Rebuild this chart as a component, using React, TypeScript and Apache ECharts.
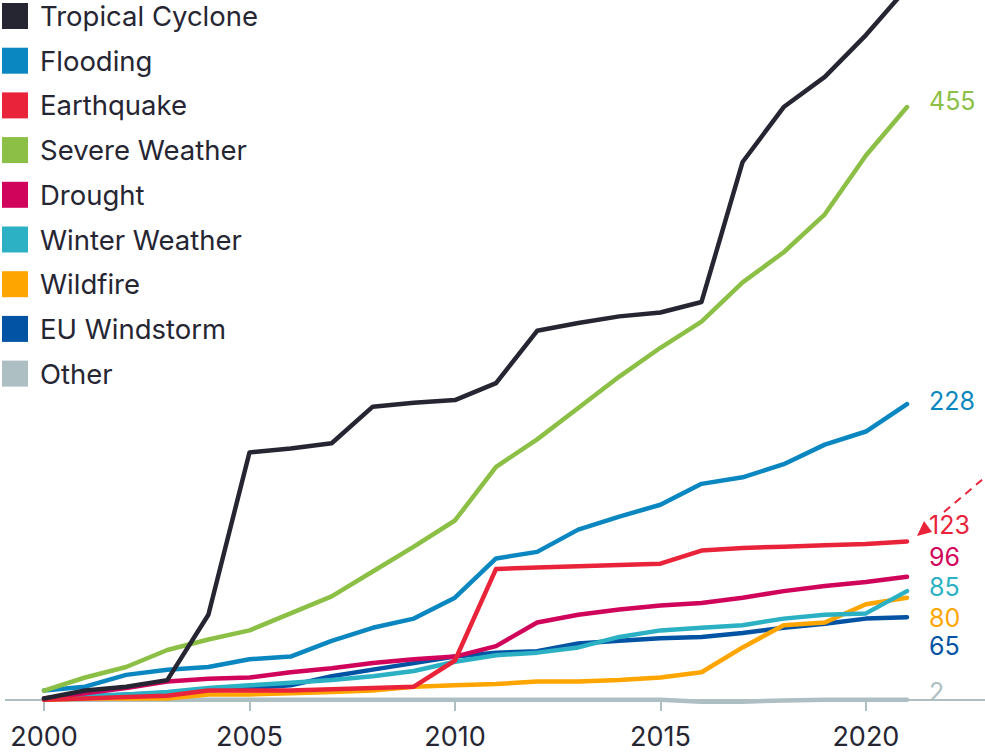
import React, { useEffect, useRef } from 'react';
import * as echarts from 'echarts';

// Cumulative counts per peril, 2000–2021
const years = [
  '2000', '2001', '2002', '2003', '2004', '2005', '2006', '2007', '2008', '2009', '2010',
  '2011', '2012', '2013', '2014', '2015', '2016', '2017', '2018', '2019', '2020', '2021',
];

const tropicalCyclone = [3, 9, 12, 17, 67, 191, 194, 198, 226, 229, 231, 244, 284, 290, 295, 298, 306, 413, 455, 478, 510, 546];
const flooding = [9, 12, 21, 25, 27, 33, 35, 47, 57, 64, 80, 110, 115, 132, 142, 151, 167, 172, 182, 197, 207, 228];
const earthquake = [2, 3, 4, 5, 9, 9, 9, 10, 11, 12, 32, 102, 103, 104, 105, 106, 116, 118, 119, 120, 121, 123];
const severeWeather = [9, 19, 27, 40, 48, 55, 68, 81, 100, 119, 139, 180, 201, 225, 249, 271, 291, 321, 344, 373, 418, 455];
const drought = [3, 7, 11, 16, 18, 19, 23, 26, 30, 33, 35, 43, 61, 67, 71, 74, 76, 80, 85, 89, 92, 96];
const winterWeather = [3, 5, 6, 8, 11, 13, 15, 17, 20, 24, 31, 36, 38, 42, 50, 55, 57, 59, 64, 67, 68, 85];
const wildfire = [2, 3, 3, 3, 6, 6, 7, 8, 9, 12, 13, 14, 16, 16, 17, 19, 23, 42, 59, 61, 75, 80];
const euWindstorm = [3, 4, 6, 7, 9, 11, 13, 20, 25, 30, 35, 38, 39, 45, 47, 49, 50, 53, 57, 60, 64, 65];
const other = [2, 2, 2, 2, 2, 2, 2, 2, 2, 2, 2, 2, 2, 2, 2, 2, 0.5, 0.5, 1.5, 2, 2, 2];

const legendOrder = [
  'Tropical Cyclone', 'Flooding', 'Earthquake', 'Severe Weather', 'Drought',
  'Winter Weather', 'Wildfire', 'EU Windstorm', 'Other',
];

const FONT = 'Inter, "Noto Sans", "Liberation Sans", sans-serif';
const TEXT = '#262633';
const AXIS = '#afbec3';

type Line = {
  name: string;
  data: number[];
  color: string;
  labelDy: number | null; // vertical nudge of the end label
  clip?: boolean;
};

// drawn bottom-up: later entries sit on top
const lines: Line[] = [
  { name: 'Other', data: other, color: '#aebfc3', labelDy: -8 },
  { name: 'EU Windstorm', data: euWindstorm, color: '#0353a4', labelDy: 29 },
  { name: 'Wildfire', data: wildfire, color: '#ffa500', labelDy: 20 },
  { name: 'Winter Weather', data: winterWeather, color: '#2bb1c3', labelDy: -4 },
  { name: 'Drought', data: drought, color: '#d1045c', labelDy: -20 },
  { name: 'Flooding', data: flooding, color: '#0a87c0', labelDy: -3 },
  { name: 'Severe Weather', data: severeWeather, color: '#8cbf45', labelDy: -6 },
  { name: 'Earthquake', data: earthquake, color: '#e9243a', labelDy: -16 },
  { name: 'Tropical Cyclone', data: tropicalCyclone, color: '#262633', labelDy: null, clip: true },
];

export default function App() {
  const ref = useRef<HTMLDivElement>(null);

  useEffect(() => {
    if (!ref.current) return;
    const chart = echarts.init(ref.current, undefined, { renderer: 'svg' });

    const series = lines.map((l) => ({
      type: 'line',
      name: l.name,
      data: l.data,
      color: l.color,
      showSymbol: false,
      clip: !!l.clip,
      lineStyle: { color: l.color, width: 4.5, cap: 'round', join: 'round' },
      itemStyle: { color: l.color },
      emphasis: { disabled: true },
      endLabel: l.labelDy === null
        ? { show: false }
        : {
            show: true,
            formatter: (p: any) => String(p.value),
            color: l.color,
            fontFamily: FONT,
            fontSize: 25,
            distance: 22,
            offset: [0, l.labelDy],
          },
    }));

    chart.setOption({
      animation: false,
      backgroundColor: '#ffffff',
      textStyle: { fontFamily: FONT },
      grid: { left: 44, right: 78, top: 0, bottom: 54, containLabel: false },
      legend: {
        data: legendOrder,
        orient: 'vertical',
        left: 2,
        top: 2,
        padding: 0,
        icon: 'rect',
        itemWidth: 26,
        itemHeight: 26,
        itemGap: 16.7,
        selectedMode: false,
        itemStyle: { borderWidth: 0 },
        textStyle: {
          color: TEXT,
          fontFamily: FONT,
          fontSize: 27.5,
          lineHeight: 26,
          padding: [0, 0, 0, 7],
        },
      },
      xAxis: {
        type: 'category',
        data: years,
        boundaryGap: false,
        axisLine: { show: false },
        axisTick: {
          show: true,
          interval: (i: number) => i % 5 === 0,
          length: 11,
          lineStyle: { color: AXIS, width: 2 },
        },
        axisLabel: {
          interval: (i: number) => i % 5 === 0,
          color: TEXT,
          fontFamily: FONT,
          fontSize: 27,
          margin: 23,
        },
        splitLine: { show: false },
      },
      yAxis: {
        type: 'value',
        min: 1.8,
        max: 536.8,
        show: false,
        splitLine: { show: false },
      },
      series,
      graphic: [
        // baseline running the full width
        {
          type: 'line',
          z: 0,
          shape: { x1: 5, y1: 700, x2: 985, y2: 700 },
          style: { stroke: AXIS, lineWidth: 2 },
        },
        // dashed pointer towards the earthquake label
        {
          type: 'line',
          z: 10,
          shape: { x1: 944, y1: 512, x2: 990, y2: 473 },
          style: { stroke: '#e9243a', lineWidth: 2, lineDash: [8, 6] },
        },
        {
          type: 'polygon',
          z: 10,
          shape: { points: [[917, 536], [924, 521], [932, 532]] },
          style: { fill: '#e9243a' },
        },
      ],
    });

    return () => chart.dispose();
  }, []);

  return (
    <div
      ref={ref}
      style={{ position: 'fixed', left: 0, top: 0, width: 985, height: 754, background: '#fff' }}
    />
  );
}
